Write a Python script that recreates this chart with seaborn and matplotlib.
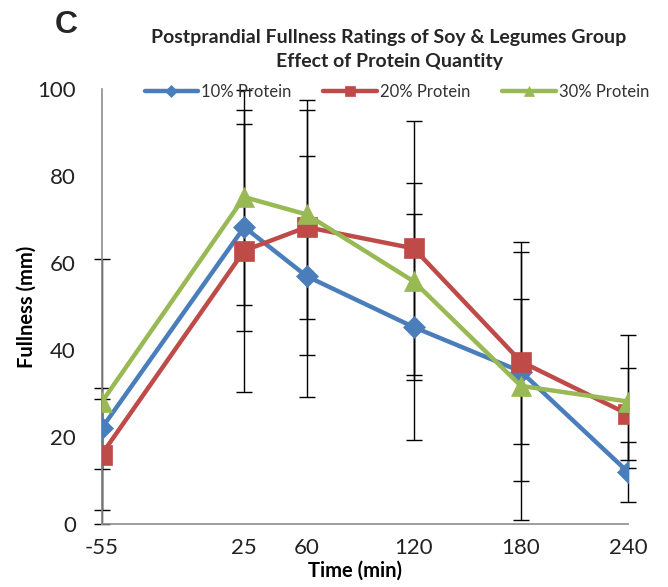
import matplotlib
matplotlib.use("Agg")
import matplotlib.pyplot as plt
import seaborn as sns
import numpy as np
import pandas as pd

# ---- data ----
time_min = [-55, 25, 60, 120, 180, 240]
series_names = ["10% Protein", "20% Protein", "30% Protein"]
p10 = [22.0, 68.3, 57.0, 45.3, 35.1, 12.0]
p10_err = [9.4, 23.8, 27.7, 25.9, 16.7, 7.0]
p20 = [16.0, 62.9, 68.3, 63.4, 37.4, 25.3]
p20_err = [12.7, 32.4, 29.3, 29.2, 27.5, 10.5]
p30 = [28.0, 75.2, 71.2, 55.8, 31.8, 28.2]
p30_err = [32.9, 24.7, 24.0, 22.7, 30.8, 15.3]
y_ticks = [0, 20, 40, 60, 80, 100]

sns.set_theme(style="white")
plt.rcParams["font.family"] = ["Lato", "DejaVu Sans"]

fig = plt.figure(figsize=(6.68, 5.87), dpi=100)
ax = fig.add_axes([0.152, 0.107, 0.788, 0.741])

colors = ["#4A7EBB", "#BE4B48", "#98B954"]
markers = ["D", "s", "^"]
msizes = [11.5, 14.0, 15.0]
values = [p10, p20, p30]
errors = [p10_err, p20_err, p30_err]

for vals, errs in zip(values, errors):
    v = np.array(vals)
    e = np.array(errs)
    lower = np.minimum(e, v)
    ax.errorbar(time_min, v, yerr=[lower, e], fmt="none", ecolor="black",
                elinewidth=1.0, capsize=6, capthick=1.0, zorder=1, clip_on=False)

for name, vals, c, m, ms in zip(series_names, values, colors, markers, msizes):
    df = pd.DataFrame({"Time": time_min, "Fullness": vals})
    sns.lineplot(data=df, x="Time", y="Fullness", ax=ax, color=c, marker=m,
                 markersize=ms, markeredgecolor=c, markeredgewidth=0.5,
                 linewidth=3.2, label=name, sort=False, zorder=3)

ax.set_xlim(-55, 240)
ax.set_ylim(0, 100)
ax.set_xticks(time_min)
ax.set_xticklabels([str(t) for t in time_min])
ax.set_yticks(y_ticks)
ax.set_yticklabels([str(t) for t in y_ticks])
ax.tick_params(axis="both", length=0, labelsize=16, colors="#222222")
ax.tick_params(axis="y", pad=18.5)
ax.tick_params(axis="x", pad=10)

for s in ["top", "right"]:
    ax.spines[s].set_visible(False)
for s in ["left", "bottom"]:
    ax.spines[s].set_color("#8c8c8c")
    ax.spines[s].set_linewidth(1.2)

ax.set_xlabel("Time (min)", fontsize=14.5, fontweight="bold", color="black")
ax.set_ylabel("Fullness (mm)", fontsize=14.5, fontweight="bold", color="black")
ax.xaxis.set_label_coords((355 - 101.7) / 526.3, -(571 - 524.3) / 435.3)
ax.yaxis.set_label_coords(-(101.7 - 27) / 526.3, (524.3 - 307) / 435.3)
ax.xaxis.label.set_va("center")
ax.yaxis.label.set_va("center")

handles, labels = ax.get_legend_handles_labels()
leg = fig.legend(handles, labels, loc="center", bbox_to_anchor=(397 / 668, 1 - 92 / 587),
                 ncol=3, frameon=False, fontsize=12, handlelength=3.2,
                 handletextpad=0.2, columnspacing=1.9)
for h in leg.legend_handles:
    h.set_markersize(6.5)
for t in leg.get_texts():
    t.set_color("#333333")
if ax.get_legend():
    ax.get_legend().remove()

fig.text(389 / 668, 1 - 37 / 587, "Postprandial Fullness Ratings of Soy & Legumes Group",
         ha="center", va="center", fontsize=14, fontweight="bold")
fig.text(389 / 668, 1 - 61 / 587, "Effect of Protein Quantity",
         ha="center", va="center", fontsize=14, fontweight="bold")
fig.text(66 / 668, 1 - 25 / 587, "C", ha="center", va="center", fontsize=23,
         fontweight="bold", family=["Liberation Sans", "DejaVu Sans"])

fig.savefig("out.png", dpi=100)
